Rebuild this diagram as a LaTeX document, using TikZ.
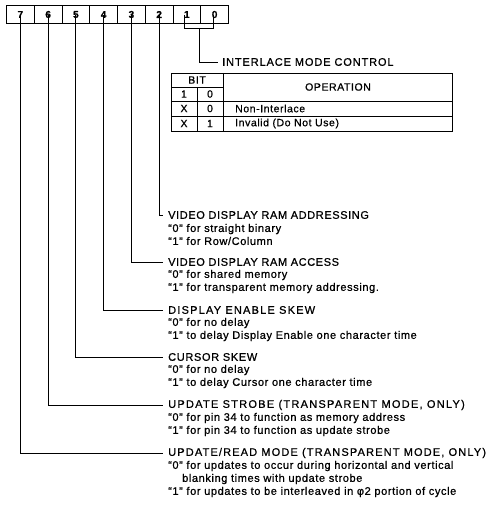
\documentclass[tikz,border=0pt]{standalone}
\usepackage{fontspec}
\setmainfont{Liberation Sans}[LetterSpace=5.5,FakeBold=0.8]
\usetikzlibrary{calc}
\begin{document}
\begin{tikzpicture}[x=1pt,y=-1pt,
  bitcell/.style={draw,line width=1pt,minimum width=27.75pt,minimum height=18pt,inner sep=0,font=\fontsize{10}{12}\selectfont\bfseries,anchor=north west},
  lbl/.style={anchor=west,inner sep=0,align=left,font=\fontsize{11}{13}\selectfont},
  wide/.style={font=\fontsize{11}{13}\selectfont\addfontfeature{LetterSpace=#1}},
  conn/.style={line width=0.8pt},
  tab/.style={line width=0.8pt},
  tabtxt/.style={inner sep=0,font=\fontsize{10.5}{12}\selectfont}]
\useasboundingbox (0,0) rectangle (491,518);
% bit cells
\foreach \b [count=\i from 0] in {7,6,5,4,3,2,1,0}{
  \node[bitcell] (b\b) at ({6+27.75*\i},5) {\b};
}
% labels
\node[lbl] (t2) at (168,215) {VIDEO DISPLAY RAM ADDRESSING};
\node[lbl] (d2) at (168,234.5) {``0'' for straight binary\\``1'' for Row/Column};
\node[lbl] (t3) at (168,262) {VIDEO DISPLAY RAM ACCESS};
\node[lbl] (d3) at (168,281.5) {``0'' for shared memory\\``1'' for transparent memory addressing.};
\node[lbl,wide=11] (t4) at (168,310) {DISPLAY ENABLE SKEW};
\node[lbl] (d4) at (168,329.5) {``0'' for no delay\\``1'' to delay Display Enable one character time};
\node[lbl,wide=6] (t5) at (168,357) {CURSOR SKEW};
\node[lbl] (d5) at (168,376.5) {``0'' for no delay\\``1'' to delay Cursor one character time};
\node[lbl,wide=11.5] (t6) at (168,405) {UPDATE STROBE (TRANSPARENT MODE, ONLY)};
\node[lbl] (d6) at (168,424.5) {``0'' for pin 34 to function as memory address\\``1'' for pin 34 to function as update strobe};
\node[lbl,wide=10.5] (t7) at (168,453) {UPDATE/READ MODE (TRANSPARENT MODE, ONLY)};
\node[lbl] (d7) at (168,479) {``0'' for updates to occur during horizontal and vertical\\\hspace{14pt}blanking times with update strobe\\``1'' for updates to be interleaved in φ2 portion of cycle};
\node[lbl,wide=8] (t10) at (222,62) {INTERLACE MODE CONTROL};
% connectors
\foreach \b in {2,3,4,5,6,7}{
  \draw[conn,shorten >=5pt] ([yshift=9pt]b\b.south) |- (t\b.west);
}
\coordinate (k1) at ([xshift=-2pt,yshift=9pt]b1.south);
\coordinate (k0) at ([xshift=-1pt,yshift=9pt]b0.south);
\draw[conn] (k1) -- ++(0,13) -| (k0);
\coordinate (km) at ($(k1)!0.5!(k0)+(0,13)$);
\draw[conn,shorten >=4pt] (km) |- (t10.west);
% table
\draw[tab] (171,73) rectangle (452,131);
\draw[tab] (223,73) -- (223,131);
\draw[tab] (197,87) -- (197,131);
\draw[tab] (171,87) -- (223,87);
\draw[tab] (171,101) -- (452,101);
\draw[tab] (171,116) -- (452,116);
\node[tabtxt] (hbit) at (197,80) {BIT};
\node[tabtxt] (hop) at (338,87) {OPERATION};
\node[tabtxt] (h1) at (184,94) {1};
\node[tabtxt] (h0) at (210,94) {0};
\node[tabtxt] (r1a) at (184,108.5) {X};
\node[tabtxt] (r1b) at (210,108.5) {0};
\node[tabtxt,anchor=west] (r1c) at (235,108.5) {Non-Interlace};
\node[tabtxt] (r2a) at (184,123.5) {X};
\node[tabtxt] (r2b) at (210,123.5) {1};
\node[tabtxt,anchor=west] (r2c) at (235,123.5) {Invalid (Do Not Use)};
\end{tikzpicture}
\end{document}
